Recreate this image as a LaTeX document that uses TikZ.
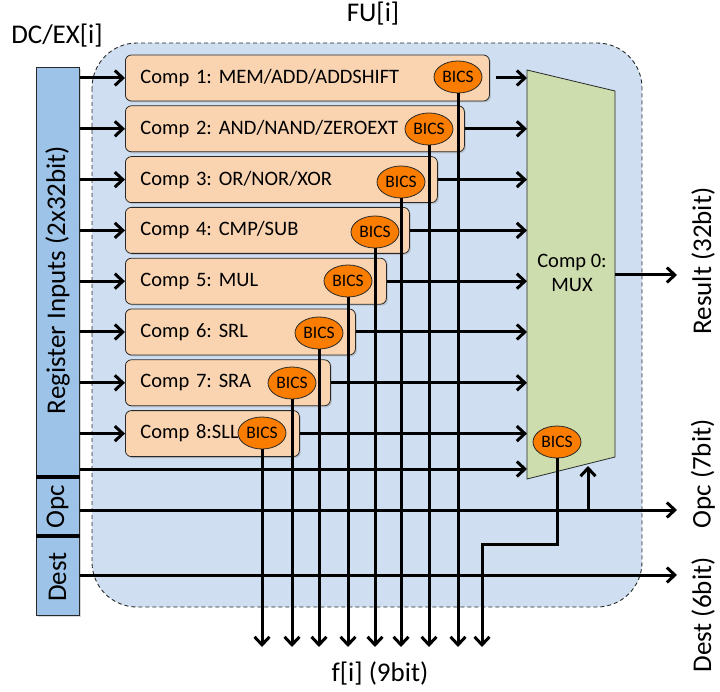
\documentclass[tikz,border=0pt]{standalone}
\usepackage{fontspec}
\setmainfont{Carlito}
\usetikzlibrary{arrows.meta,shapes.geometric,shadows}
\definecolor{panelblue}{RGB}{207,223,241}
\definecolor{barblue}{RGB}{157,195,232}
\definecolor{peach}{RGB}{250,212,177}
\definecolor{bicsorange}{RGB}{250,125,0}
\definecolor{muxgreen}{RGB}{206,221,173}
\definecolor{edgegray}{RGB}{40,40,40}
\frenchspacing
\begin{document}
\begin{tikzpicture}[x=1pt,y=-1pt,
  big/.style={font=\fontsize{27}{30}\selectfont, inner sep=0pt},
  shad/.style={drop shadow={shadow xshift=1.5pt,shadow yshift=-1.5pt,opacity=0.3}},
  comp/.style={draw=edgegray, line width=0.8pt, fill=peach, rounded corners=6pt,
    minimum height=46pt, inner xsep=15pt, inner ysep=0pt, anchor=west, align=left,
    font=\fontsize{20.5}{24}\selectfont, shad},
  bics/.style={ellipse, draw=edgegray, line width=0.8pt, fill=bicsorange,
    minimum width=48pt, minimum height=32pt, inner sep=0pt,
    font=\fontsize{17.5}{18}\selectfont},
  wire/.style={line width=3pt},
  arr/.style={wire, -{Straight Barb[length=8pt,width=15pt]}},
]
\useasboundingbox (0,0) rectangle (720,692);

% FU panel
\path[fill=panelblue, draw=edgegray, line width=0.9pt, dash pattern=on 4pt off 3pt,
  rounded corners=45pt] (92,43) rectangle (642,607);

% register bar
\node[draw=edgegray, fill=barblue, line width=0.8pt, minimum width=43pt,
  minimum height=548pt, anchor=north west, inner sep=0pt, shad] (bar) at (36,67) {};
\coordinate (s1) at (0,477);
\coordinate (s2) at (0,536);
\draw[line width=4pt] (bar.west |- s1) -- (bar.east |- s1);
\draw[line width=4pt] (bar.west |- s2) -- (bar.east |- s2);
\node[big, rotate=90] (reglbl) at (57.5,280) {Register Inputs (2x32bit)};
\node[big, rotate=90] (opclbl) at (57.5,507) {Opc};
\node[big, rotate=90] (destlbl) at (57.5,577) {Dest};

% components
\node[comp, text width=334pt] (c1) at (125,78)    {Comp 1: MEM/ADD/ADDSHIFT};
\node[comp, text width=309pt] (c2) at (125,128.8) {Comp 2: AND/NAND/ZEROEXT};
\node[comp, text width=282pt] (c3) at (125,179.6) {Comp 3: OR/NOR/XOR};
\node[comp, text width=254pt] (c4) at (125,230.4) {Comp 4: CMP/SUB};
\node[comp, text width=231pt] (c5) at (125,281.2) {Comp 5: MUL};
\node[comp, text width=200pt] (c6) at (125,332)   {Comp 6: SRL};
\node[comp, text width=175pt] (c7) at (125,382.8) {Comp 7: SRA};
\node[comp, text width=144pt] (c8) at (125,433.6) {Comp 8:SLL};

\node[bics] (b1) at (458,77)  {BICS};
\node[bics] (b2) at (429,129) {BICS};
\node[bics] (b3) at (401,182) {BICS};
\node[bics] (b4) at (375,232) {BICS};
\node[bics] (b5) at (348,281) {BICS};
\node[bics] (b6) at (319,333) {BICS};
\node[bics] (b7) at (292,383) {BICS};
\node[bics] (b8) at (262,433) {BICS};

% MUX
\draw[fill=muxgreen, draw=edgegray, line width=0.8pt]
  (527,70) -- (615,91) -- (615,457) -- (527,479) -- cycle;
\node[align=center, font=\fontsize{20.5}{24}\selectfont] (mux) at (572,273) {Comp 0:\\MUX};
\node[bics] (bm) at (557,442) {BICS};

\coordinate (muxl) at (527,0);
\coordinate (fb) at (0,647);

% inputs
\foreach \n in {1,...,8} \draw[arr] (bar.east |- c\n.west) -- (c\n.west);
\coordinate (x9) at (0,469);
\draw[arr] (bar.east |- x9) -- (muxl |- x9);

% outputs to MUX
\draw[arr, shorten <=6pt] (c1.east) -- (c1.east -| muxl);
\foreach \n in {2,...,8} \draw[arr] (c\n.east) -- (c\n.east -| muxl);

% Opc and Dest
\coordinate (opcy) at (0,510);
\coordinate (opcend) at (677,510);
\draw[arr] (bar.east |- opcy) -- (opcend);
\coordinate (ob) at (571,510);
\coordinate (obt) at (588,466);
\draw[arr] (ob) -| (obt);
\coordinate (desty) at (0,575);
\coordinate (destend) at (677,575);
\draw[arr] (bar.east |- desty) -- (destend);

% result
\coordinate (res) at (615,275);
\coordinate (resend) at (677,275);
\draw[arr] (res) -- (resend);

% flag outputs
\foreach \n in {1,...,8} \draw[arr] (b\n.south) -- (b\n.south |- fb);
\coordinate (m1) at (482,544);
\draw[arr] (bm.south) |- (m1) -- (m1 |- fb);

% labels
\node[big] (fulbl) at (373,14) {FU[i]};
\node[big] (dclbl) at (57,36) {DC/EX[i]};
\node[big, rotate=90] (reslbl2) at (703,261) {Result (32bit)};
\node[big, rotate=90] (opclbl2) at (703,474) {Opc (7bit)};
\node[big, rotate=90] (destlbl2) at (703,615) {Dest (6bit)};
\node[big] (flbl) at (380,673) {f[i] (9bit)};
\end{tikzpicture}
\end{document}
